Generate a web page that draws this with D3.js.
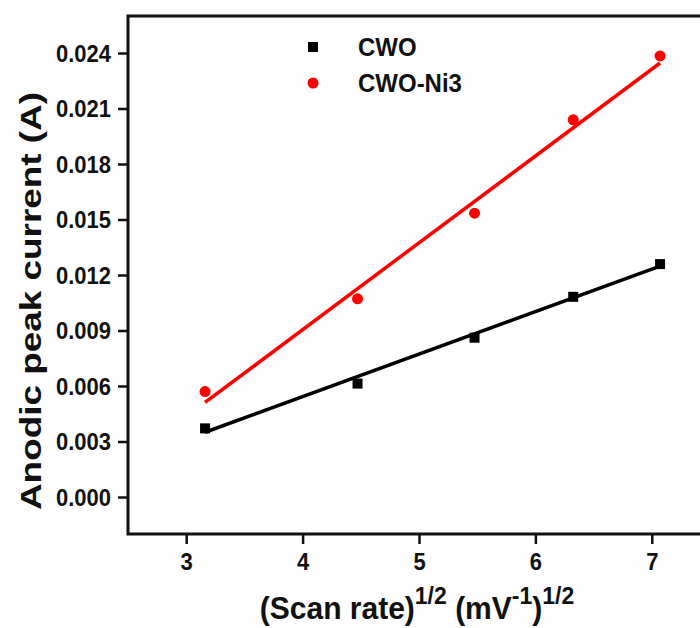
<!DOCTYPE html>
<html>
<head>
<meta charset="utf-8">
<script src="https://cdn.jsdelivr.net/npm/d3@7"></script>
<style>
  body { margin: 0; background: #fefefe; }
  text { font-family: "Liberation Sans", Arial, sans-serif; font-weight: bold; fill: #111; }
</style>
</head>
<body>
<div id="chart"></div>
<script>
// sqrt of scan rate (10..50 mV/s)
var scanRoot = [3.162, 4.472, 5.477, 6.325, 7.071];
var cwoPeak = [0.00371, 0.00613, 0.00861, 0.01082, 0.01259];
var ni3Peak = [0.00570, 0.01071, 0.01534, 0.02039, 0.02384];

// linear fit end points
var fitX = [3.162, 7.071];
var cwoFit = [0.00350, 0.01248];
var ni3Fit = [0.00511, 0.02346];

var xTicks = [3, 4, 5, 6, 7];
var yTicks = [0, 0.003, 0.006, 0.009, 0.012, 0.015, 0.018, 0.021, 0.024];
var seriesNames = ["CWO", "CWO-Ni3"];

var width = 700;
var height = 628;

var svg = d3
  .select("#chart")
  .append("svg")
  .attr("width", width)
  .attr("height", height);

var plotLeft = 128, plotTop = 16, plotBottom = 534, plotRight = 710;

var xScale = d3.scaleLinear().domain([2.5, 7.5]).range([plotLeft, plotRight]);
var yScale = d3.scaleLinear().domain([-0.002, 0.026]).range([plotBottom, plotTop]);

// axes
var xAxis = d3.axisBottom(xScale).tickValues(xTicks).tickSize(10).tickPadding(9).tickFormat(d3.format("d"));
var yAxis = d3.axisLeft(yScale).tickValues(yTicks).tickSize(10).tickPadding(7).tickFormat(d3.format(".3f"));

var gx = svg.append("g")
  .attr("transform", "translate(0," + plotBottom + ")")
  .call(xAxis);
var gy = svg.append("g")
  .attr("transform", "translate(" + plotLeft + ",0)")
  .call(yAxis);

[gx, gy].forEach(function(g) {
  g.select(".domain").remove();
  g.selectAll(".tick line").attr("stroke", "#111").attr("stroke-width", 2.5);
  g.selectAll(".tick text").attr("font-size", 22).attr("fill", "#111");
});
// stretch labels a bit vertically like the original
gy.selectAll(".tick text")
  .attr("dy", null)
  .attr("dominant-baseline", "central");
gy.selectAll(".tick text").each(function() {
  var t = d3.select(this);
  t.attr("transform", "translate(" + t.attr("x") + ",0) scale(1,1.1) translate(" + (-t.attr("x")) + ",0)");
});
gx.selectAll(".tick text").attr("transform", "scale(1,1.05)");

// frame (top and left borders visible, right edge falls outside)
svg.append("rect")
  .attr("x", plotLeft)
  .attr("y", plotTop)
  .attr("width", plotRight - plotLeft)
  .attr("height", plotBottom - plotTop)
  .attr("fill", "none")
  .attr("stroke", "#111")
  .attr("stroke-width", 3);

// fit lines
var line = d3.line()
  .x(function(d) { return xScale(d[0]); })
  .y(function(d) { return yScale(d[1]); });

svg.append("path")
  .datum(fitX.map(function(x, i) { return [x, cwoFit[i]]; }))
  .attr("d", line)
  .attr("fill", "none")
  .attr("stroke", "#000")
  .attr("stroke-width", 3.5);

svg.append("path")
  .datum(fitX.map(function(x, i) { return [x, ni3Fit[i]]; }))
  .attr("d", line)
  .attr("fill", "none")
  .attr("stroke", "#ff0000")
  .attr("stroke-width", 3.5);

// points
var sq = 10;
svg.selectAll("rect.cwo")
  .data(scanRoot)
  .enter()
  .append("rect")
  .attr("class", "cwo")
  .attr("x", function(d) { return xScale(d) - sq / 2; })
  .attr("y", function(d, i) { return yScale(cwoPeak[i]) - sq / 2; })
  .attr("width", sq)
  .attr("height", sq)
  .attr("fill", "#000");

svg.selectAll("circle.ni3")
  .data(scanRoot)
  .enter()
  .append("circle")
  .attr("class", "ni3")
  .attr("cx", function(d) { return xScale(d); })
  .attr("cy", function(d, i) { return yScale(ni3Peak[i]); })
  .attr("r", 5.5)
  .attr("fill", "#ff0000");

// legend
var legend = svg.append("g");
legend.append("rect")
  .attr("x", 313 - sq / 2).attr("y", 47 - sq / 2)
  .attr("width", sq).attr("height", sq)
  .attr("fill", "#000");
legend.append("circle")
  .attr("cx", 313).attr("cy", 83).attr("r", 5.5)
  .attr("fill", "#ff0000");
legend.selectAll("text")
  .data(seriesNames)
  .enter()
  .append("text")
  .attr("transform", function(d, i) { return "translate(358," + (47 + i * 36) + ") scale(1,1.08)"; })
  .attr("dominant-baseline", "central")
  .attr("font-size", 24)
  .text(function(d) { return d; });

// y label
svg.append("text")
  .attr("transform", "translate(31,301) rotate(-90) scale(1.23,1)")
  .attr("text-anchor", "middle")
  .attr("dominant-baseline", "central")
  .attr("font-size", 30)
  .text("Anodic peak current (A)");

// x label with superscripts
var xLabel = svg.append("text")
  .attr("transform", "translate(417,619) scale(1,1.02)")
  .attr("text-anchor", "middle")
  .attr("font-size", 30);
xLabel.append("tspan").text("(Scan rate)");
xLabel.append("tspan").attr("font-size", 23).attr("dy", -15).text("1/2");
xLabel.append("tspan").attr("dy", 15).text(" (mV");
xLabel.append("tspan").attr("font-size", 23).attr("dy", -15).text("-1");
xLabel.append("tspan").attr("dy", 15).text(")");
xLabel.append("tspan").attr("font-size", 23).attr("dy", -15).text("1/2");
</script>
</body>
</html>
